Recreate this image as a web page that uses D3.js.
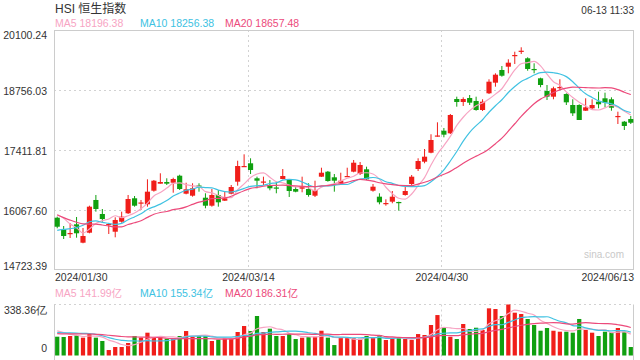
<!DOCTYPE html>
<html><head><meta charset="utf-8">
<script src="https://cdn.jsdelivr.net/npm/d3@7"></script>
<style>
html,body{margin:0;padding:0;background:#fff;}
svg{display:block;font-family:"Liberation Sans",Arial,"Noto Sans CJK SC",sans-serif;}
</style></head><body>
<svg id="c" width="640" height="360"></svg>
<script>
const title = "HSI 恒生指数";
const stamp = "06-13 11:33";
const dates = ["2024/01/30","2024/01/31","2024/02/01","2024/02/02","2024/02/05","2024/02/06","2024/02/07","2024/02/08","2024/02/09","2024/02/14","2024/02/15","2024/02/16","2024/02/19","2024/02/20","2024/02/21","2024/02/22","2024/02/23","2024/02/26","2024/02/27","2024/02/28","2024/02/29","2024/03/01","2024/03/04","2024/03/05","2024/03/06","2024/03/07","2024/03/08","2024/03/11","2024/03/12","2024/03/13","2024/03/14","2024/03/15","2024/03/18","2024/03/19","2024/03/20","2024/03/21","2024/03/22","2024/03/25","2024/03/26","2024/03/27","2024/03/28","2024/04/02","2024/04/03","2024/04/05","2024/04/08","2024/04/09","2024/04/10","2024/04/11","2024/04/12","2024/04/15","2024/04/16","2024/04/17","2024/04/18","2024/04/19","2024/04/22","2024/04/23","2024/04/24","2024/04/25","2024/04/26","2024/04/29","2024/04/30","2024/05/02","2024/05/03","2024/05/06","2024/05/07","2024/05/08","2024/05/09","2024/05/10","2024/05/13","2024/05/14","2024/05/16","2024/05/17","2024/05/20","2024/05/21","2024/05/22","2024/05/23","2024/05/24","2024/05/27","2024/05/28","2024/05/29","2024/05/30","2024/05/31","2024/06/03","2024/06/04","2024/06/05","2024/06/06","2024/06/07","2024/06/11","2024/06/12","2024/06/13"];
const open = [15895,15635,15541,15747,15335,15559,16292,15978,15732,15581,
  15805,15994,16330,16224,16195,16500,16657,16695,16679,16836,
  16433,16388,16617,16343,16164,16404,16276,16433,16702,17042,
  17114,16778,16695,16628,16572,16762,16740,16538,16545,16538,
  16388,16814,16926,16800,16666,16818,16926,16874,16979,16500,
  16366,16213,16254,16247,16404,16650,16986,17150,17351,17725,
  17844,17786,18554,18487,18577,18510,18308,18682,18920,19204,
  19278,19518,19630,19466,19227,19018,18734,18606,18812,18666,
  18420,18420,18292,18346,18494,18570,18548,18162,18046,18106];
const high = [15918,15709,15776,15911,15664,16164,16404,16090,15776,15904,
  16030,16404,16381,16292,16755,16740,16890,16778,16791,16858,
  16679,16666,16666,16442,16538,16516,16478,16628,17172,17315,
  17226,16814,16814,16740,16702,16986,16740,16590,16814,16666,
  16724,17015,16941,16874,16903,17015,17188,17143,17038,16650,
  16442,16307,16493,16254,16628,16852,17226,17434,17764,18032,
  17905,18218,18606,18592,18644,18606,18548,18996,19130,19294,
  19444,19614,19713,19489,19354,19032,18868,18830,18996,18682,
  18548,18436,18570,18548,18718,18696,18592,18270,18062,18174];
const low = [15658,15418,15440,15447,15322,15546,16030,15805,15530,15456,
  15783,15978,16142,16068,16142,16478,16657,16628,16455,16516,
  16419,16366,16478,16106,16142,16142,16269,16419,16612,17038,
  16874,16554,16628,16509,16442,16755,16359,16464,16464,16366,
  16359,16807,16702,16478,16650,16814,16912,16852,16740,16478,
  16195,16164,16218,16052,16388,16628,16941,17114,17338,17710,
  17696,17770,18382,18398,18420,18292,18286,18666,18830,19054,
  19130,19339,19563,19188,19130,18817,18532,18548,18756,18420,
  18174,18084,18286,18324,18346,18368,18292,17994,17860,17994];
const close = [15693,15485,15552,15546,15485,16142,16090,15866,15754,15844,
  15918,16314,16164,16236,16478,16724,16695,16657,16762,16538,
  16531,16554,16605,16164,16404,16240,16330,16583,17053,17053,
  16964,16724,16706,16554,16560,16829,16493,16478,16599,16404,
  16516,16903,16717,16724,16724,16829,17127,17076,16755,16590,
  16240,16224,16366,16236,16493,16814,17165,17262,17636,17737,
  17755,18196,18487,18554,18472,18308,18494,18942,19099,19076,
  19368,19540,19636,19227,19215,18868,18606,18794,18823,18480,
  18234,18084,18368,18420,18436,18472,18359,18174,17950,18023];
// closes of the 19 sessions before the first visible day (needed for the moving averages)
const priorCloses = [16645.98,16646.41,16535.33,16224.45,16190.02,16097.28,16302.01,16244.58,16216.33,15865.92,15276.90,15391.82,15308.69,14961.18,15353.98,15899.87,16211.96,15952.23,16077.24];
// turnover, 亿
const volume = [124.7,122.7,129.3,133.8,118.3,142.3,118.3,96.2,36.3,56.3,
  56.3,82.9,129.3,118.3,151.3,118.3,120.3,111.3,114.3,129.3,
  162.3,124.3,129.3,129.3,96.3,104.8,116.3,111.3,155.9,195.7,
  162.3,262.1,155.9,177.8,129.3,129.3,142.3,109.3,118.3,122.3,
  124.3,164.3,118.3,69.3,118.3,118.3,114.3,111.3,129.3,118.3,
  136,102.8,111.3,118.3,109.3,102.8,142.3,136,202.3,268.3,
  184.3,124.3,109.3,209,175.8,184.3,169.3,312.9,308.3,262.1,
  338.36,284,275.3,242.2,202.3,164.3,182.3,164.3,157.9,157.9,
  151.3,242.3,169.3,151.3,129.3,157.9,153.9,182.3,157.9,56.3];
const priorVolumes = [150,140,135,130,145,160,130,125,135,140,130,135,150,140,145,175,190,160,165];
const priceTicks = [14723.39,16067.60,17411.81,18756.03,20100.24];
const volTicks = [0,338.36];
const xTickDates = ["2024/01/30","2024/03/14","2024/04/30","2024/06/13"];
const gridDates = ["2024/03/14","2024/04/30"];
const maPeriods = [5,10,20];
const priceLegend = ["MA5 18196.38","MA10 18256.38","MA20 18657.48"];
const volLegend = ["MA5 141.99亿","MA10 155.34亿","MA20 186.31亿"];

const svg = d3.select("#c");
const L=54, R=634, T=30, B=270, VT=304.5, VB=355.5;
const C = {up:"#f01e1a", down:"#10a010", ma:["#f7a4c3","#40c2e2","#ec4a7b"], text:"#333", grid:"#d2d2d2", border:"#cccccc"};
const FS = 10.5;

const x = d3.scaleBand().domain(dates).range([L,R]).paddingInner(0.2).paddingOuter(0.1);
const bw = x.bandwidth();
const cx = d => x(d) + bw/2;
const y = d3.scaleLinear().domain([priceTicks[0], priceTicks[priceTicks.length-1]]).range([B,T]);
const yv = d3.scaleLinear().domain(volTicks).range([VB,VT]);

function movingAvg(values, prior, n){
  const all = prior.concat(values);
  return values.map((_,i) => d3.mean(all.slice(prior.length+i-n+1, prior.length+i+1)));
}

// titles
svg.append("text").attr("x",55).attr("y",12.5).attr("font-size",12).attr("fill",C.text).text(title);
svg.append("text").attr("x",R).attr("y",14).attr("text-anchor","end").attr("font-size",10).attr("fill",C.text).text(stamp);
const legX = [55,140,225];
priceLegend.forEach((t,i)=>svg.append("text").attr("x",legX[i]).attr("y",27.3).attr("font-size",FS).attr("fill",C.ma[i]).text(t));
volLegend.forEach((t,i)=>svg.append("text").attr("x",legX[i]).attr("y",297.3).attr("font-size",FS).attr("fill",C.ma[i]).text(t));

// price panel grid & border
const g = svg.append("g");
g.selectAll("line.hg").data(priceTicks.slice(1,-1)).join("line")
  .attr("x1",L).attr("x2",R).attr("y1",d=>Math.round(y(d))+0.5).attr("y2",d=>Math.round(y(d))+0.5)
  .attr("stroke",C.grid).attr("stroke-dasharray","2,3");
g.selectAll("line.vg").data(gridDates).join("line")
  .attr("x1",d=>Math.round(x(d))+0.5).attr("x2",d=>Math.round(x(d))+0.5).attr("y1",T).attr("y2",B)
  .attr("stroke",C.grid).attr("stroke-dasharray","2,3");
g.append("rect").attr("x",L+0.5).attr("y",T+0.5).attr("width",R-L-1).attr("height",B-T-1)
  .attr("fill","none").attr("stroke",C.border);

// y axis (price)
const ya = svg.append("g").attr("transform",`translate(${L-4},0)`)
  .call(d3.axisLeft(y).tickValues(priceTicks).tickSize(0).tickFormat(d3.format(".2f")));
ya.select(".domain").remove();
ya.selectAll("text").attr("font-size",FS).attr("fill",C.text).attr("font-family",null)
  .attr("dy",(d,i)=> i===priceTicks.length-1 ? "8.4" : (i===0 ? "-0.8" : "4.6"));

// x labels
svg.selectAll("text.xl").data(xTickDates).join("text")
  .attr("x",(d,i)=> i===0 ? L+1 : (i===xTickDates.length-1 ? R : x(d)+0.5))
  .attr("y",280.7)
  .attr("text-anchor",(d,i)=> i===0 ? "start" : (i===xTickDates.length-1 ? "end" : "middle"))
  .attr("font-size",FS).attr("fill",C.text).text(d=>d);

// watermark
svg.append("text").attr("x",584).attr("y",257.5).attr("font-size",10).attr("fill","#c9c9c9").text("sina.com");

// candles
const data = dates.map((d,i)=>({d,o:open[i],h:high[i],l:low[i],c:close[i],v:volume[i],up:close[i]>=open[i]}));
const cg = svg.append("g");
cg.selectAll("line.wick").data(data).join("line")
  .attr("x1",d=>cx(d.d)).attr("x2",d=>cx(d.d)).attr("y1",d=>y(d.h)).attr("y2",d=>y(d.l))
  .attr("stroke",d=>d.up?C.up:C.down).attr("stroke-width",1);
cg.selectAll("rect.body").data(data).join("rect")
  .attr("x",d=>x(d.d)).attr("width",bw)
  .attr("y",d=>y(Math.max(d.o,d.c)))
  .attr("height",d=>Math.max(1.2, Math.abs(y(d.o)-y(d.c))))
  .attr("fill",d=>d.up?C.up:C.down);

// price MAs
const lineP = d3.line().x((d,i)=>cx(dates[i])).y(d=>y(d)).curve(d3.curveMonotoneX);
maPeriods.forEach((n,k)=>{
  svg.append("path").attr("d",lineP(movingAvg(close,priorCloses,n)))
    .attr("fill","none").attr("stroke",C.ma[k]).attr("stroke-width",1.2);
});

// volume panel
const vg = svg.append("g");
vg.append("line").attr("x1",L).attr("x2",R).attr("y1",VT).attr("y2",VT).attr("stroke",C.grid).attr("stroke-dasharray","2,3");
vg.append("line").attr("x1",L+0.5).attr("x2",L+0.5).attr("y1",VT).attr("y2",360).attr("stroke",C.border);
vg.append("line").attr("x1",R-0.5).attr("x2",R-0.5).attr("y1",VT).attr("y2",360).attr("stroke",C.border);
vg.selectAll("line.vvg").data(gridDates).join("line")
  .attr("x1",d=>Math.round(x(d))+0.5).attr("x2",d=>Math.round(x(d))+0.5).attr("y1",VT).attr("y2",360)
  .attr("stroke",C.grid).attr("stroke-dasharray","2,3");
const vbw = bw*0.82;
vg.selectAll("rect.vol").data(data).join("rect")
  .attr("x",d=>cx(d.d)-vbw/2).attr("width",vbw)
  .attr("y",d=>yv(d.v)).attr("height",d=>yv(0)-yv(d.v))
  .attr("fill",d=>d.up?C.up:C.down);
const lineV = d3.line().x((d,i)=>cx(dates[i])).y(d=>yv(d)).curve(d3.curveMonotoneX);
maPeriods.forEach((n,k)=>{
  svg.append("path").attr("d",lineV(movingAvg(volume,priorVolumes,n)))
    .attr("fill","none").attr("stroke",C.ma[k]).attr("stroke-width",1.2);
});
const va = svg.append("g").attr("transform",`translate(${L-4},0)`)
  .call(d3.axisLeft(yv).tickValues(volTicks).tickSize(0).tickFormat(d=> d===0 ? "0" : d3.format(".2f")(d)+"亿"));
va.select(".domain").remove();
va.selectAll("text").attr("font-size",FS).attr("fill",C.text).attr("font-family",null)
  .attr("dy",(d,i)=> i===0 ? "-3.8" : "9");
</script>
</body></html>
